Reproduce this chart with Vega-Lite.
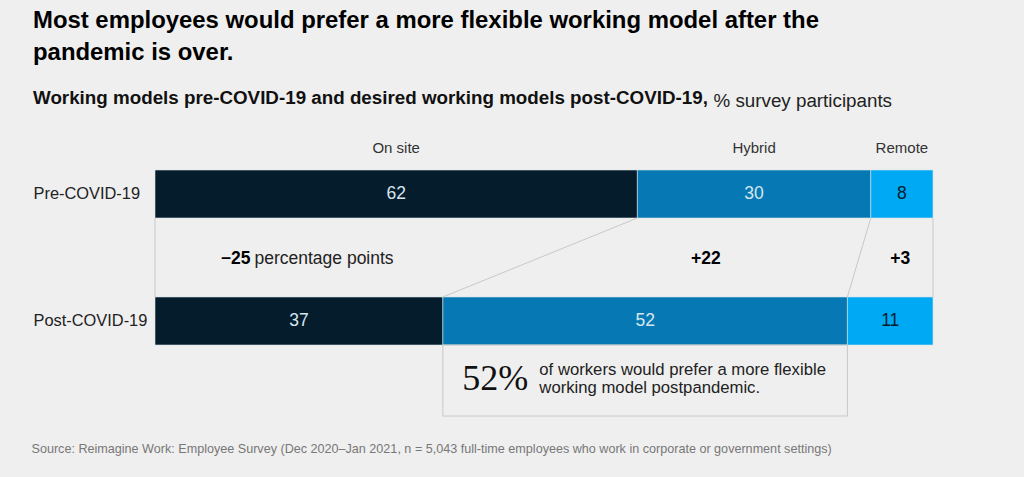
{
  "$schema": "https://vega.github.io/schema/vega-lite/v6.json",
  "autosize": "none",
  "width": 778,
  "height": 175,
  "padding": {"left": 155, "top": 170, "right": 91, "bottom": 132},
  "background": "#efefef",
  "config": {
    "view": {"stroke": null},
    "font": "Liberation Sans"
  },
  "title": {
    "text": ["Most employees would prefer a more flexible working model after the", "pandemic is over."],
    "subtitle": "Working models pre-COVID-19 and desired working models post-COVID-19,",
    "anchor": "start",
    "frame": "group",
    "dx": -122,
    "fontSize": 23.9,
    "lineHeight": 32,
    "fontWeight": "bold",
    "color": "#000000",
    "subtitleFontSize": 18.8,
    "subtitleFontWeight": "bold",
    "subtitleColor": "#111111",
    "subtitlePadding": 24,
    "offset": -17
  },
  "datasets": {
    "shares": [
      {"period": "Pre-COVID-19", "model": "On site", "value": 62, "rank": 1},
      {"period": "Pre-COVID-19", "model": "Hybrid", "value": 30, "rank": 2},
      {"period": "Pre-COVID-19", "model": "Remote", "value": 8, "rank": 3},
      {"period": "Post-COVID-19", "model": "On site", "value": 37, "rank": 1},
      {"period": "Post-COVID-19", "model": "Hybrid", "value": 52, "rank": 2},
      {"period": "Post-COVID-19", "model": "Remote", "value": 11, "rank": 3}
    ],
    "connectors": [
      {"pre": 62, "post": 37},
      {"pre": 92, "post": 89}
    ],
    "edges": [{"edge": 0}, {"edge": 100}]
  },
  "data": {"name": "shares"},
  "encoding": {
    "y": {
      "field": "period",
      "type": "nominal",
      "scale": {"domain": ["Pre-COVID-19", "Post-COVID-19"], "paddingInner": 0.622, "paddingOuter": 0},
      "axis": {
        "orient": "left",
        "domain": false,
        "ticks": false,
        "tickSize": 0,
        "labelAlign": "left",
        "labelPadding": 122,
        "labelFontSize": 16.4,
        "labelColor": "#222222",
        "title": "% survey participants",
        "titleAngle": 0,
        "titleAlign": "left",
        "titleBaseline": "alphabetic",
        "titleX": 558,
        "titleY": -64,
        "titleFontSize": 18.8,
        "titleFontWeight": "normal",
        "titleColor": "#222222"
      }
    }
  },
  "layer": [
    {
      "mark": {"type": "bar", "stroke": "#d8e2e8", "strokeWidth": 0.6},
      "encoding": {
        "x": {
          "field": "value",
          "type": "quantitative",
          "stack": "zero",
          "scale": {"domain": [0, 100]},
          "axis": {
            "orient": "bottom",
            "domain": false,
            "ticks": false,
            "labels": false,
            "grid": false,
            "title": "Source: Reimagine Work: Employee Survey (Dec 2020–Jan 2021, n = 5,043 full-time employees who work in corporate or government settings)",
            "titleAnchor": "start",
            "titleAlign": "left",
            "titleBaseline": "alphabetic",
            "titleX": -124,
            "titleY": 107,
            "titleFontSize": 12.6,
            "titleFontWeight": "normal",
            "titleColor": "#777777"
          }
        },
        "order": {"field": "rank"},
        "color": {
          "field": "model",
          "type": "nominal",
          "scale": {"domain": ["On site", "Hybrid", "Remote"], "range": ["#051c2c", "#0679b4", "#00a9f4"]},
          "legend": null
        }
      }
    },
    {
      "mark": {"type": "text", "fontSize": 17.5, "baseline": "middle"},
      "encoding": {
        "x": {"field": "value", "type": "quantitative", "stack": "zero", "bandPosition": 0.5},
        "order": {"field": "rank"},
        "text": {"field": "value"},
        "color": {"condition": {"test": "datum.model === 'Remote'", "value": "#051c2c"}, "value": "#d6e6ef"}
      }
    },
    {
      "transform": [{"filter": "datum.period === 'Pre-COVID-19'"}],
      "mark": {"type": "text", "fontSize": 15, "baseline": "middle", "dy": -22, "color": "#333333"},
      "encoding": {
        "x": {"field": "value", "type": "quantitative", "stack": "zero", "bandPosition": 0.5},
        "y": {"field": "period", "type": "nominal", "bandPosition": 0},
        "order": {"field": "rank"},
        "text": {"field": "model"}
      }
    },
    {
      "data": {"name": "edges"},
      "mark": {"type": "rule", "color": "#c8c8c8", "strokeWidth": 1},
      "encoding": {
        "x": {"field": "edge", "type": "quantitative"},
        "y": {"datum": "Pre-COVID-19", "bandPosition": 1},
        "y2": {"datum": "Post-COVID-19", "bandPosition": 0}
      }
    },
    {
      "data": {"name": "connectors"},
      "mark": {"type": "rule", "color": "#c8c8c8", "strokeWidth": 1},
      "encoding": {
        "x": {"field": "pre", "type": "quantitative"},
        "x2": {"field": "post"},
        "y": {"datum": "Pre-COVID-19", "bandPosition": 1},
        "y2": {"datum": "Post-COVID-19", "bandPosition": 0}
      }
    },
    {
      "transform": [
        {"stack": "value", "groupby": ["period"], "sort": [{"field": "rank"}], "as": ["x0", "x1"]},
        {"filter": "datum.period === 'Post-COVID-19' && datum.model === 'Hybrid'"}
      ],
      "mark": {"type": "rect", "fill": null, "stroke": "#c8c8c8", "strokeWidth": 1},
      "encoding": {
        "x": {"field": "x0", "type": "quantitative"},
        "x2": {"field": "x1"},
        "y": {"datum": "Post-COVID-19", "bandPosition": 1},
        "y2": {"datum": "Post-COVID-19", "bandPosition": 2.48}
      }
    },
    {
      "data": {"values": [{"t": "−25"}]},
      "mark": {"type": "text", "fontSize": 17.5, "fontWeight": "bold", "align": "right", "baseline": "middle", "color": "#000000", "dx": -1},
      "encoding": {
        "x": {"datum": 12.4},
        "y": {"datum": "Pre-COVID-19", "bandPosition": 1.85},
        "text": {"field": "t"}
      }
    },
    {
      "data": {"values": [{"t": "percentage points"}]},
      "mark": {"type": "text", "fontSize": 17.5, "align": "left", "baseline": "middle", "color": "#222222", "dx": 3},
      "encoding": {
        "x": {"datum": 12.4},
        "y": {"datum": "Pre-COVID-19", "bandPosition": 1.85},
        "text": {"field": "t"}
      }
    },
    {
      "data": {"values": [{"t": "+22"}]},
      "mark": {"type": "text", "fontSize": 17.5, "fontWeight": "bold", "align": "center", "baseline": "middle", "color": "#000000"},
      "encoding": {
        "x": {"datum": 70.8},
        "y": {"datum": "Pre-COVID-19", "bandPosition": 1.85},
        "text": {"field": "t"}
      }
    },
    {
      "data": {"values": [{"t": "+3"}]},
      "mark": {"type": "text", "fontSize": 17.5, "fontWeight": "bold", "align": "center", "baseline": "middle", "color": "#000000"},
      "encoding": {
        "x": {"datum": 95.8},
        "y": {"datum": "Pre-COVID-19", "bandPosition": 1.85},
        "text": {"field": "t"}
      }
    },
    {
      "data": {"values": [{"t": "52%"}]},
      "mark": {"type": "text", "fontSize": 36, "font": "Liberation Serif", "align": "left", "baseline": "alphabetic", "color": "#111111"},
      "encoding": {
        "x": {"datum": 39.5},
        "y": {"datum": "Post-COVID-19", "bandPosition": 1.94},
        "text": {"field": "t"}
      }
    },
    {
      "data": {"values": [{"t": ["of workers would prefer a more flexible", "working model postpandemic."]}]},
      "mark": {"type": "text", "fontSize": 16.7, "lineHeight": 18, "align": "left", "baseline": "alphabetic", "color": "#222222"},
      "encoding": {
        "x": {"datum": 49.4},
        "y": {"datum": "Post-COVID-19", "bandPosition": 1.63},
        "text": {"field": "t"}
      }
    }
  ]
}
